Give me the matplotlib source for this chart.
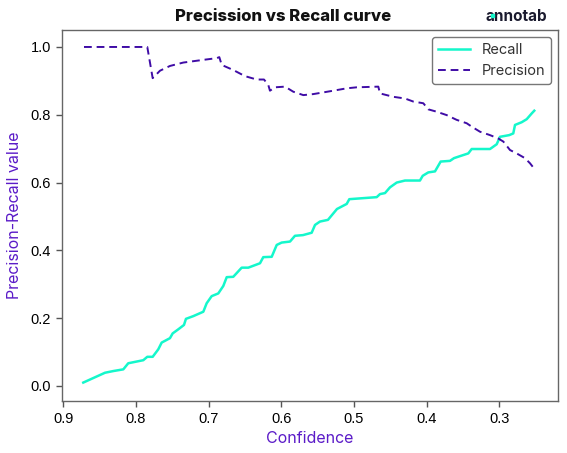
import matplotlib
matplotlib.use("Agg")
import matplotlib.pyplot as plt
from matplotlib.patches import Rectangle

recall_conf = [0.8725, 0.8426, 0.8312, 0.8174, 0.8106, 0.7899, 0.7844, 0.7770, 0.7693, 0.7646,
               0.7532, 0.7495, 0.7418, 0.7339, 0.7312, 0.7211, 0.7073, 0.7027, 0.6958, 0.6867,
               0.6798, 0.6751, 0.6661, 0.6545, 0.6454, 0.6293, 0.6248, 0.6132, 0.6063, 0.5995,
               0.5880, 0.5812, 0.5702, 0.5582, 0.5536, 0.5468, 0.5358, 0.5234, 0.5100, 0.5064,
               0.4687, 0.4642, 0.4573, 0.4504, 0.4412, 0.4298, 0.4092, 0.4054, 0.3977, 0.3885,
               0.3807, 0.3679, 0.3624, 0.3541, 0.3427, 0.3380, 0.3128, 0.3036, 0.2991, 0.2863,
               0.2808, 0.2784, 0.2692, 0.2623, 0.2554, 0.2519]
recall_vals = [0.010, 0.039, 0.044, 0.049, 0.067, 0.076, 0.086, 0.086, 0.108, 0.128,
               0.141, 0.155, 0.167, 0.180, 0.198, 0.206, 0.219, 0.244, 0.265, 0.273,
               0.295, 0.321, 0.322, 0.349, 0.349, 0.362, 0.380, 0.381, 0.416, 0.423,
               0.426, 0.443, 0.445, 0.452, 0.475, 0.485, 0.490, 0.522, 0.537, 0.551,
               0.557, 0.566, 0.569, 0.586, 0.600, 0.606, 0.606, 0.620, 0.630, 0.633,
               0.662, 0.664, 0.672, 0.678, 0.686, 0.699, 0.699, 0.713, 0.735, 0.740,
               0.745, 0.770, 0.778, 0.787, 0.804, 0.812]

precision_conf = [0.8715, 0.7844, 0.7770, 0.7669, 0.7532, 0.7349, 0.7073, 0.6889, 0.6853, 0.6820,
                  0.6661, 0.6500, 0.6339, 0.6238, 0.6179, 0.6156, 0.6087, 0.5949, 0.5835, 0.5697,
                  0.5560, 0.5285, 0.5100, 0.4963, 0.4665, 0.4642, 0.4459, 0.4298, 0.4184, 0.4046,
                  0.3977, 0.3862, 0.3724, 0.3587, 0.3449, 0.3380, 0.3266, 0.3128, 0.3014, 0.2945,
                  0.2853, 0.2761, 0.2647, 0.2578, 0.2523]
precision_vals = [1.000, 1.000, 0.908, 0.930, 0.944, 0.954, 0.962, 0.967, 0.970, 0.947,
                  0.932, 0.914, 0.904, 0.904, 0.888, 0.871, 0.881, 0.883, 0.868, 0.858,
                  0.861, 0.871, 0.878, 0.881, 0.883, 0.863, 0.853, 0.848, 0.839, 0.834,
                  0.816, 0.809, 0.799, 0.785, 0.775, 0.765, 0.750, 0.740, 0.730, 0.721,
                  0.696, 0.686, 0.672, 0.657, 0.642]

x_ticks = [0.9, 0.8, 0.7, 0.6, 0.5, 0.4, 0.3]
y_ticks = [0.0, 0.2, 0.4, 0.6, 0.8, 1.0]

RECALL_C = "#14F7CB"
PREC_C = "#3F0CA6"
LABEL_C = "#5B1BC8"
FONT = "Inter"

fig = plt.figure(figsize=(5.67, 4.53), dpi=100)
ax = fig.add_axes([0.1093, 0.1155, 0.8754, 0.8183])

ax.plot(recall_conf, recall_vals, color=RECALL_C, lw=1.8, label="Recall")
ax.plot(precision_conf, precision_vals, color=PREC_C, lw=1.4, ls=(0, (4, 2.5)), label="Precision")

ax.set_xlim(0.9018, 0.2188)
ax.set_ylim(-0.0434, 1.0501)
ax.set_xticks(x_ticks)
ax.set_xticklabels([f"{v:.1f}" for v in x_ticks], family="Liberation Sans", fontsize=10.5)
ax.set_yticks(y_ticks)
ax.set_yticklabels([f"{v:.1f}" for v in y_ticks], family="Liberation Sans", fontsize=10.5)
ax.tick_params(direction="out", length=4, color="#555555", width=1, pad=4)
for s in ax.spines.values():
    s.set_color("#666666")
    s.set_linewidth(1.0)

ax.set_xlabel("Confidence", color=LABEL_C, fontsize=11.5, family=FONT, labelpad=4)
ax.set_ylabel("Precision-Recall value", color=LABEL_C, fontsize=11.5, family=FONT, labelpad=6)

leg = ax.legend(loc="upper right", frameon=True, fancybox=True,
                edgecolor="#777777", framealpha=1, prop={"family": FONT, "size": 10.5},
                handlelength=2.2, borderpad=0.4)
for t in leg.get_texts():
    t.set_color("#333333")

fig.text(0.5, 0.963, "Precission vs Recall curve", ha="center", va="center",
         fontsize=12, fontweight="heavy", family=FONT, color="#111111")
fig.text(0.965, 0.963, "annotab", ha="right", va="center", fontsize=11,
         fontweight="bold", family=FONT, color="#1a1a2e")
fig.patches.append(Rectangle((0.8665, 0.962), 0.005, 0.006, transform=fig.transFigure,
                             color=RECALL_C, zorder=5))

fig.savefig("out.png", dpi=100)
